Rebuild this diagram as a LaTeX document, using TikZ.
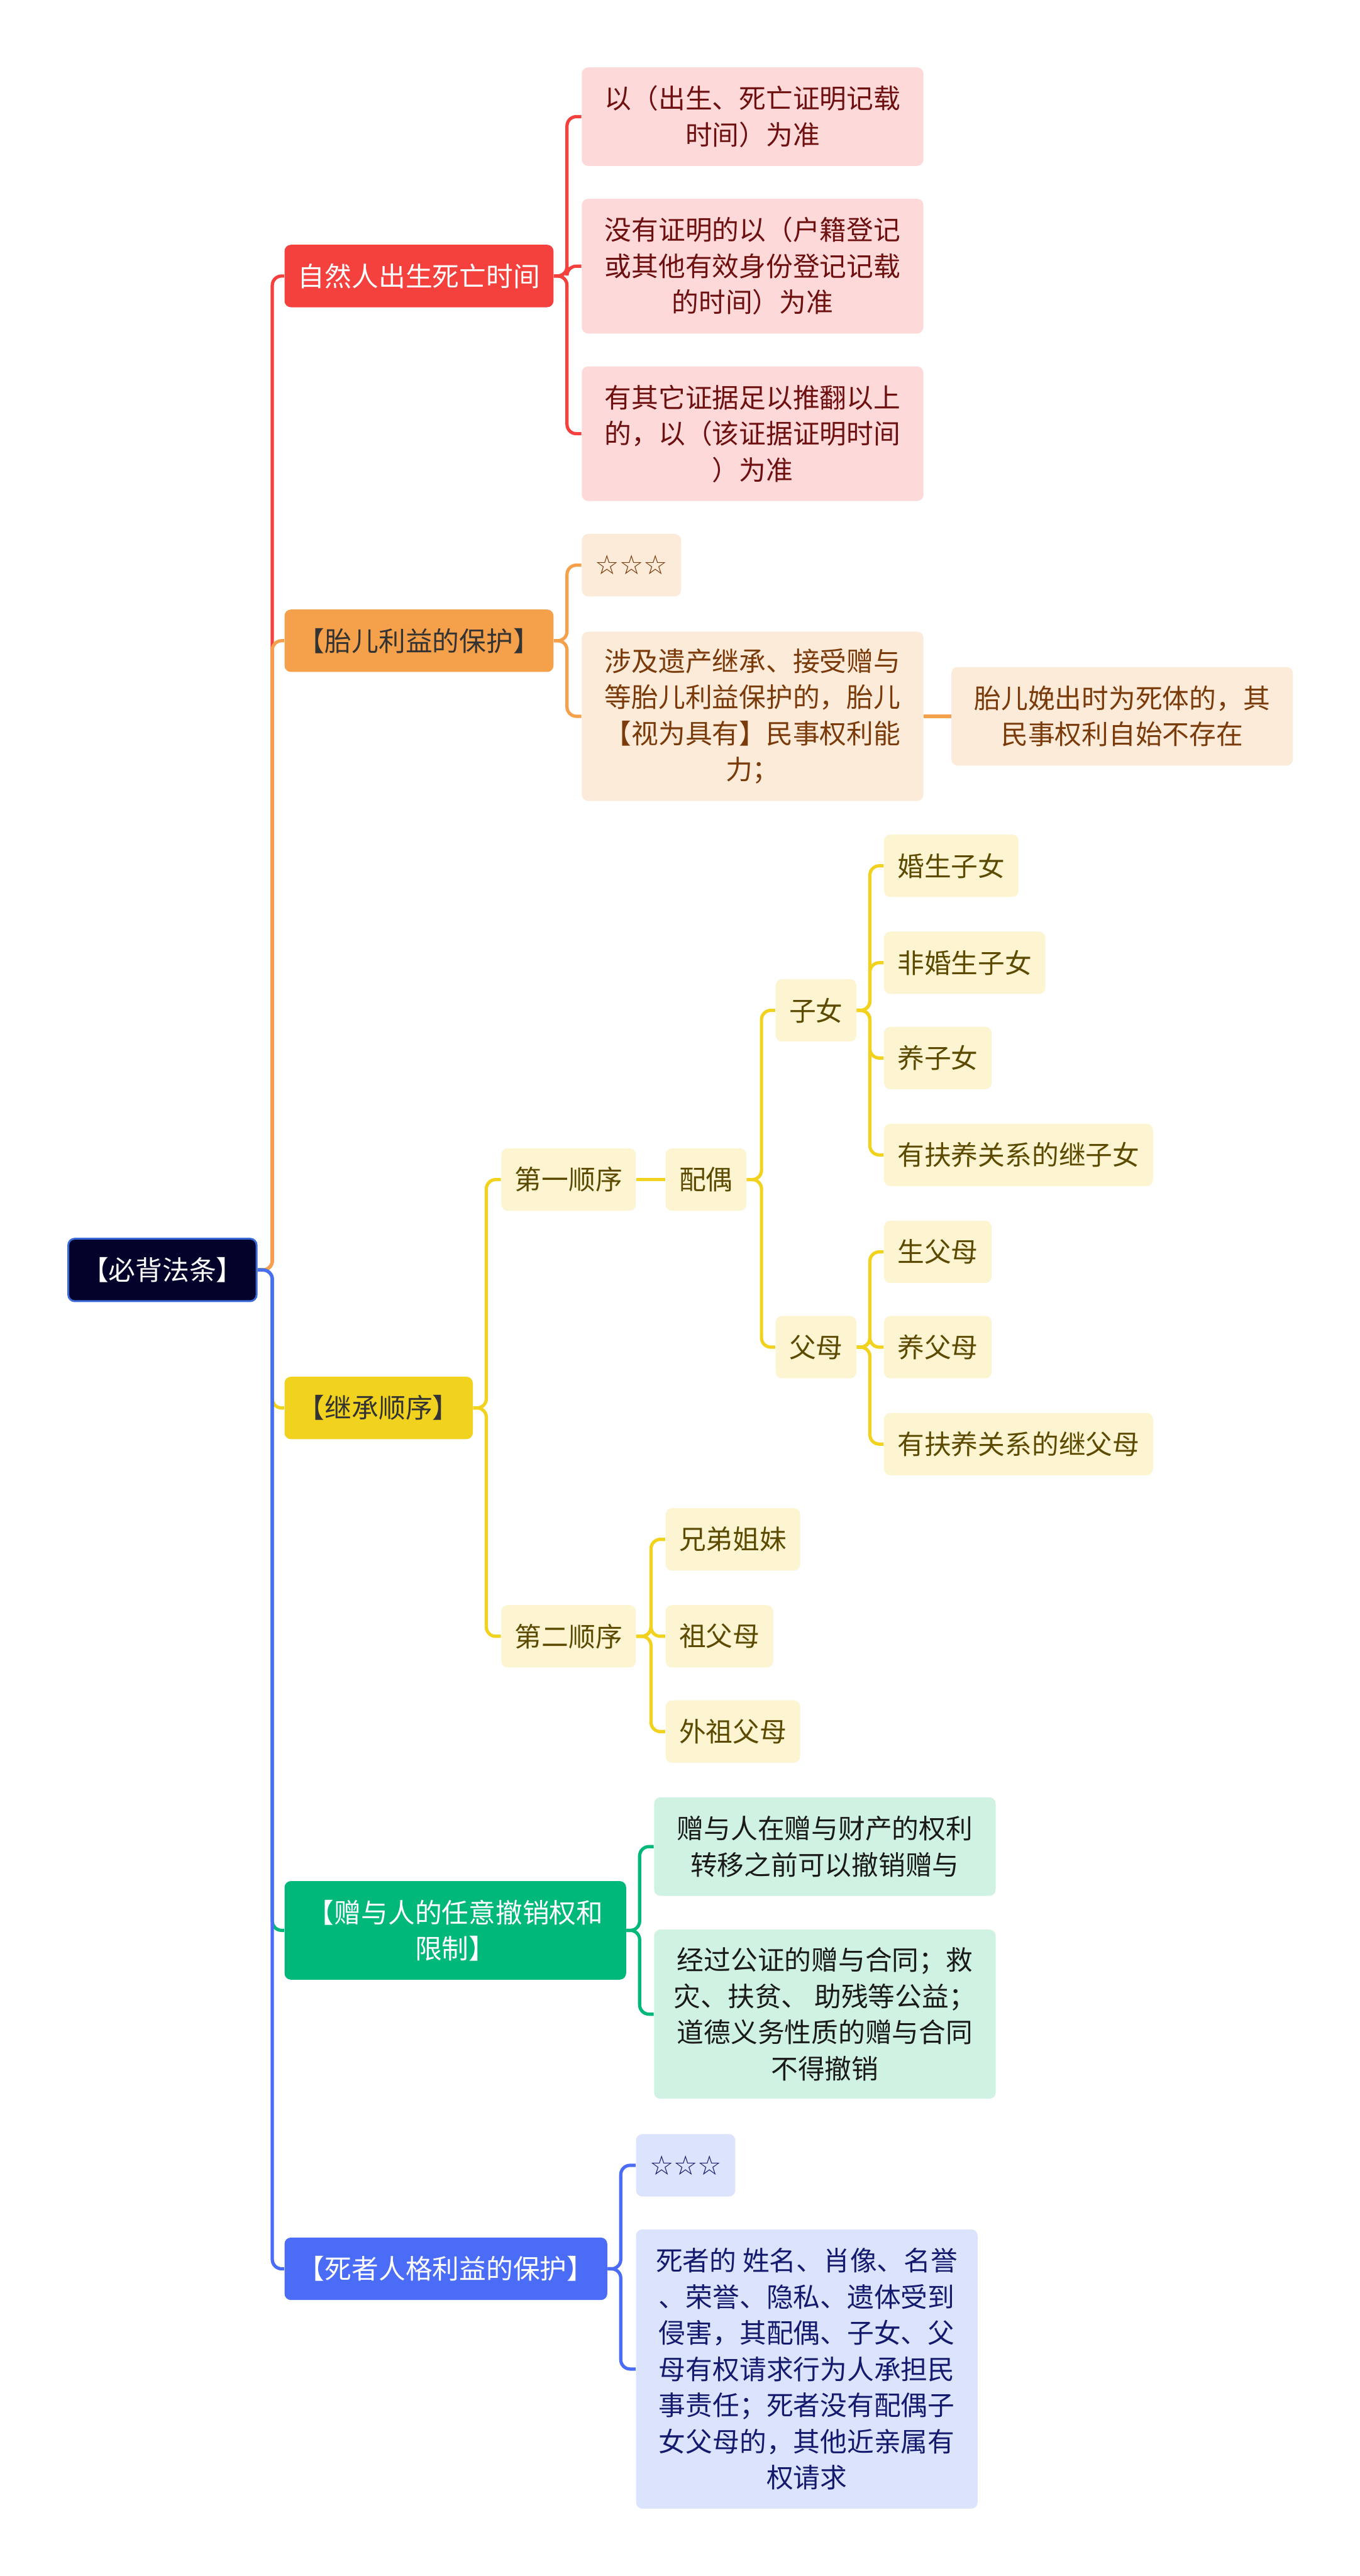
\documentclass[tikz,border=0pt]{standalone}
\usepackage{fontspec}
\setmainfont{Noto Sans CJK SC}
\newfontfamily\starfont{DejaVu Sans}
\usepackage{tikz}
\usepackage{xcolor}
\definecolor{cRoot}{HTML}{02022B}
\definecolor{cRootEdge}{HTML}{3A6AD8}
\definecolor{cDark}{HTML}{333333}
\definecolor{cRed}{HTML}{F5413D}
\definecolor{cRedL}{HTML}{FDD9D9}
\definecolor{cRedT}{HTML}{6E1010}
\definecolor{cOrange}{HTML}{F5A04A}
\definecolor{cOrangeL}{HTML}{FDEBDA}
\definecolor{cOrangeT}{HTML}{7A3A0A}
\definecolor{cYellow}{HTML}{F0D21F}
\definecolor{cYellowL}{HTML}{FDF5D2}
\definecolor{cYellowT}{HTML}{5C4A00}
\definecolor{cGreen}{HTML}{00B87A}
\definecolor{cGreenL}{HTML}{CFF2E3}
\definecolor{cGreenT}{HTML}{1A1A1A}
\definecolor{cBlue}{HTML}{4A6CF7}
\definecolor{cBlueL}{HTML}{DCE3FC}
\definecolor{cBlueT}{HTML}{141B6E}

\begin{document}
\begin{tikzpicture}[x=0.30918mm,y=-0.30918mm,
  box/.style={anchor=west,rounded corners=1.2mm,align=center,inner xsep=2.54mm,inner ysep=1mm,
    minimum height=11.75mm,font=\fontsize{14.4pt}{19.35pt}\selectfont},
  wide/.style={minimum width=64.3mm},
  h2/.style={minimum height=18.55mm},
  h3/.style={minimum height=25.35mm},
  h4/.style={minimum height=31.85mm},
  h7/.style={minimum height=52.56mm},
  root/.style={box,fill=cRoot,draw=cRootEdge,line width=1pt,text=white},
  redbox/.style={box,wide,fill=cRedL,text=cRedT},
  orgbox/.style={box,fill=cOrangeL,text=cOrangeT},
  ylwbox/.style={box,fill=cYellowL,text=cYellowT},
  grnbox/.style={box,wide,fill=cGreenL,text=cGreenT},
  blubox/.style={box,fill=cBlueL,text=cBlueT},
  link/.style={line width=1.75pt,rounded corners=5pt}]
\useasboundingbox (0,0) rectangle (828,1568);

\node[root] (root) at (41,773) {【必背法条】};

\node[box,fill=cRed,text=white] (birth) at (173,168) {自然人出生死亡时间};
\node[box,fill=cOrange,text=cDark] (fetus) at (173,390) {【胎儿利益的保护】};
\node[box,fill=cYellow,text=cDark] (order) at (173,857) {【继承顺序】};
\node[box,wide,h2,fill=cGreen,text=white] (gift) at (173,1175) {【赠与人的任意撤销权和\\限制】};
\node[box,fill=cBlue,text=white] (dead) at (173,1381) {【死者人格利益的保护】};

\node[redbox,h2] (r1) at (354,71) {以（出生、死亡证明记载\\时间）为准};
\node[redbox,h3] (r2) at (354,162) {没有证明的以（户籍登记\\或其他有效身份登记记载\\的时间）为准};
\node[redbox,h3] (r3) at (354,264) {有其它证据足以推翻以上\\的，以（该证据证明时间\\）为准};

\node[orgbox] (o1) at (354,344) {\starfont ☆☆☆};
\node[orgbox,wide,h4] (o2) at (354,436) {涉及遗产继承、接受赠与\\等胎儿利益保护的，胎儿\\【视为具有】民事权利能\\力；};
\node[orgbox,wide,h2] (o3) at (579,436) {胎儿娩出时为死体的，其\\民事权利自始不存在};

\node[ylwbox] (first) at (305,718) {第一顺序};
\node[ylwbox] (second) at (305,996) {第二顺序};
\node[ylwbox] (spouse) at (405,718) {配偶};
\node[ylwbox] (child) at (472,615) {子女};
\node[ylwbox] (parent) at (472,820) {父母};
\node[ylwbox] (c1) at (538,527) {婚生子女};
\node[ylwbox] (c2) at (538,586) {非婚生子女};
\node[ylwbox] (c3) at (538,644) {养子女};
\node[ylwbox] (c4) at (538,703) {有扶养关系的继子女};
\node[ylwbox] (p1) at (538,762) {生父母};
\node[ylwbox] (p2) at (538,820) {养父母};
\node[ylwbox] (p3) at (538,879) {有扶养关系的继父母};
\node[ylwbox] (s1) at (405,937) {兄弟姐妹};
\node[ylwbox] (s2) at (405,996) {祖父母};
\node[ylwbox] (s3) at (405,1054) {外祖父母};

\node[grnbox,h2] (g1) at (398,1124) {赠与人在赠与财产的权利\\转移之前可以撤销赠与};
\node[grnbox,h4] (g2) at (398,1226) {经过公证的赠与合同；救\\灾、扶贫、 助残等公益；\\道德义务性质的赠与合同\\不得撤销};

\node[blubox] (d1) at (387,1318) {\starfont ☆☆☆};
\node[blubox,wide,h7] (d2) at (387,1442) {死者的 姓名、肖像、名誉\\、荣誉、隐私、遗体受到\\侵害，其配偶、子女、父\\母有权请求行为人承担民\\事责任；死者没有配偶子\\女父母的，其他近亲属有\\权请求};

\draw[link,cRed] (root.east) -- ++(9,0) |- (birth.west);
\draw[link,cOrange] (root.east) -- ++(9,0) |- (fetus.west);
\draw[link,cYellow] (root.east) -- ++(9,0) |- (order.west);
\draw[link,cGreen] (root.east) -- ++(9,0) |- (gift.west);
\draw[link,cBlue] (root.east) -- ++(9,0) |- (dead.west);

\foreach \n in {r1,r2,r3}
  \draw[link,cRed] (birth.east) -- ++(8,0) |- (\n.west);

\foreach \n in {o1,o2}
  \draw[link,cOrange] (fetus.east) -- ++(8,0) |- (\n.west);
\draw[link,cOrange] (o2.east) -- (o3.west);

\foreach \n in {first,second}
  \draw[link,cYellow] (order.east) -- ++(8,0) |- (\n.west);
\draw[link,cYellow] (first.east) -- (spouse.west);
\foreach \n in {child,parent}
  \draw[link,cYellow] (spouse.east) -- ++(9,0) |- (\n.west);
\foreach \n in {c1,c2,c3,c4}
  \draw[link,cYellow] (child.east) -- ++(8,0) |- (\n.west);
\foreach \n in {p1,p2,p3}
  \draw[link,cYellow] (parent.east) -- ++(8,0) |- (\n.west);
\foreach \n in {s1,s2,s3}
  \draw[link,cYellow] (second.east) -- ++(9,0) |- (\n.west);

\foreach \n in {g1,g2}
  \draw[link,cGreen] (gift.east) -- ++(8,0) |- (\n.west);

\foreach \n in {d1,d2}
  \draw[link,cBlue] (dead.east) -- ++(8,0) |- (\n.west);
\end{tikzpicture}
\end{document}
